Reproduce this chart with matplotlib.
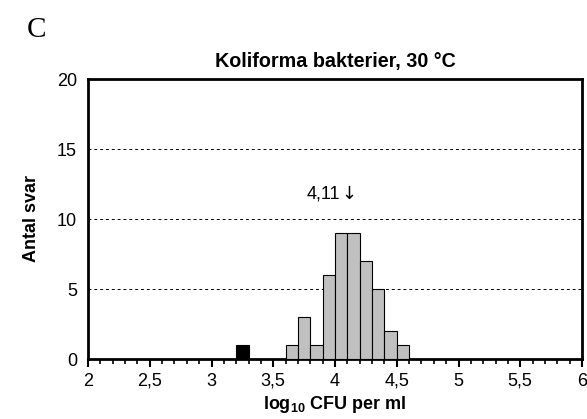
import matplotlib
matplotlib.use("Agg")
import matplotlib.pyplot as plt
from matplotlib.ticker import MultipleLocator, FuncFormatter

plt.rcParams["font.family"] = ["Liberation Sans", "DejaVu Sans"]
plt.rcParams["mathtext.fontset"] = "custom"
plt.rcParams["mathtext.rm"] = "Liberation Sans"
plt.rcParams["mathtext.bf"] = "Liberation Sans:bold"

# Histogram of reported results, bins of 0.1 log10 units
bin_left = [3.2, 3.6, 3.7, 3.8, 3.9, 4.0, 4.1, 4.2, 4.3, 4.4, 4.5]
counts = [1, 1, 3, 1, 6, 9, 9, 7, 5, 2, 1]
flagged = [True, False, False, False, False, False, False, False, False, False, False]
bin_width = 0.1
median_value = 4.11
median_label = "4,11"

fig = plt.figure(figsize=(5.87, 4.19), dpi=100)
ax = fig.add_axes([88 / 587, (419 - 359) / 419, (582 - 88) / 587, (359 - 79) / 419])

colors = ["black" if f else "#c0c0c0" for f in flagged]
ax.bar(bin_left, counts, width=bin_width, align="edge", color=colors,
       edgecolor="black", linewidth=0.8, zorder=3)

ax.set_xlim(2, 6)
ax.set_ylim(0, 20)
ax.xaxis.set_major_locator(MultipleLocator(0.5))
ax.xaxis.set_minor_locator(MultipleLocator(0.1))
ax.yaxis.set_major_locator(MultipleLocator(5))
fmt = FuncFormatter(lambda v, p: (f"{v:g}").replace(".", ","))
ax.xaxis.set_major_formatter(fmt)

for y in (5, 10, 15):
    ax.axhline(y, color="black", linestyle=(0, (3, 3)), linewidth=0.7, zorder=1)

for s in ax.spines.values():
    s.set_linewidth(2.0)

ax.tick_params(axis="x", which="major", direction="out", length=6, width=1.5,
               labelsize=13, pad=4)
ax.tick_params(axis="x", which="minor", direction="out", length=3.5, width=1.2)
ax.tick_params(axis="y", which="both", length=0, labelsize=13, pad=8)

ax.set_title("Koliforma bakterier, 30 °C", fontsize=14.2, fontweight="bold", pad=9)
ax.set_ylabel("Antal svar", fontsize=13, fontweight="bold", labelpad=12)
ax.set_xlabel(r"log$_{\mathbf{10}}$ CFU per ml", fontsize=13, fontweight="bold", labelpad=3)

# median marker: value text followed by a downward arrow at the median
ax.annotate("↓", xy=(median_value, 11.8), ha="center", va="center",
            fontsize=13, family="DejaVu Sans")
ax.annotate(median_label, xy=(median_value, 11.8), ha="right", va="center",
            fontsize=13, xytext=(-6, 0), textcoords="offset points")

fig.text(27 / 587, 1 - 30 / 419, "C", fontsize=21, family="Liberation Serif",
         ha="left", va="center")

fig.savefig("out.png", dpi=100)
